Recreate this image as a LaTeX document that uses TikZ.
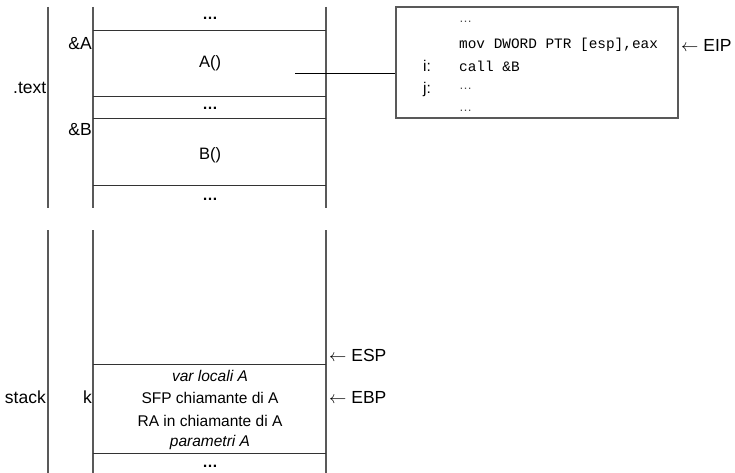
\documentclass[tikz,border=0pt]{standalone}
\usepackage{fontspec}
\setmainfont{Liberation Sans}
\setmonofont{Liberation Mono}
\usetikzlibrary{positioning}

\begin{document}
\begin{tikzpicture}[
    x=1pt, y=-1pt,
    font=\fontsize{15.5}{18}\selectfont,
    wall/.style={draw=black!65, line width=1.1pt},
    cell/.style={draw=black!80, line width=0.9pt},
    txt/.style={inner sep=0pt},
    big/.style={inner sep=0pt, font=\fontsize{17.5}{20}\selectfont},
    side/.style={big, anchor=east},
    dots/.style={inner sep=0pt, font=\fontsize{15.5}{18}\selectfont\bfseries},
    code/.style={inner sep=0pt, anchor=west, font=\fontsize{14.4}{17}\selectfont\ttfamily},
    codedots/.style={inner sep=0pt, anchor=west, text=black!70, font=\fontsize{13}{15}\selectfont},
    codebox/.style={
        rectangle,
        draw=black!65,
        line width=1.1pt,
        minimum width=282pt,
        minimum height=111pt,
        inner sep=0pt
    },
    pointer/.style={big, anchor=west}
]
\useasboundingbox (0,0) rectangle (735,473);

% .text segment
\draw[wall] (48,7) -- (48,208);
\draw[wall] (93,7) -- (93,208);
\draw[wall] (326,7) -- (326,208);
\foreach \y in {30,96,118,185}
    \draw[cell] (93,\y) -- (326,\y);

\node[side] (textseg) at (46.5,88) {.text};
\node[side] (addrA) at (92,44) {\&A};
\node[side] (addrB) at (92,130) {\&B};
\node[dots] (dotsT1) at (210,18) {…};
\node[txt, font=\fontsize{16.5}{18}\selectfont] (funA) at (210,63) {A()};
\node[dots] (dotsT2) at (210,108) {…};
\node[txt, font=\fontsize{16.5}{18}\selectfont] (funB) at (210,155) {B()};
\node[dots] (dotsT3) at (210,199) {…};

% codice di A
\node[codebox] (codeA) at (537,62.5) {};
\node[codedots] (c1) at (459,22) {…};
\node[code] (c2) at (459,45) {mov DWORD PTR [esp],eax};
\node[txt] (li) at (427,66) {i:};
\node[code] (c3) at (459,66) {call \&B};
\node[txt] (lj) at (427,89) {j:};
\node[codedots] (c4) at (459,89) {…};
\node[codedots] (c5) at (459,111) {…};
\node[pointer] (eip) at (681,45) {$\leftarrow$ EIP};

\coordinate (fromA) at (295,73);
\draw[line width=0.9pt] (fromA) -- (codeA.west |- fromA);

% stack
\draw[wall] (48,230) -- (48,473);
\draw[wall] (93,230) -- (93,473);
\draw[wall] (326,230) -- (326,473);
\foreach \y in {364,453}
    \draw[cell] (93,\y) -- (326,\y);

\node[side] (stackseg) at (46,397) {stack};
\node[side] (addrk) at (92,397) {k};
\node[txt] (locali) at (210,376) {\itshape var locali A};
\node[txt] (sfp) at (210,398) {SFP chiamante di A};
\node[txt] (ra) at (210,421) {RA in chiamante di A};
\node[txt] (param) at (210,442) {\itshape parametri A};
\node[dots] (dotsS) at (210,466) {…};
\node[pointer] (esp) at (329,355) {$\leftarrow$ ESP};
\node[pointer] (ebp) at (329,397) {$\leftarrow$ EBP};

\end{tikzpicture}
\end{document}
